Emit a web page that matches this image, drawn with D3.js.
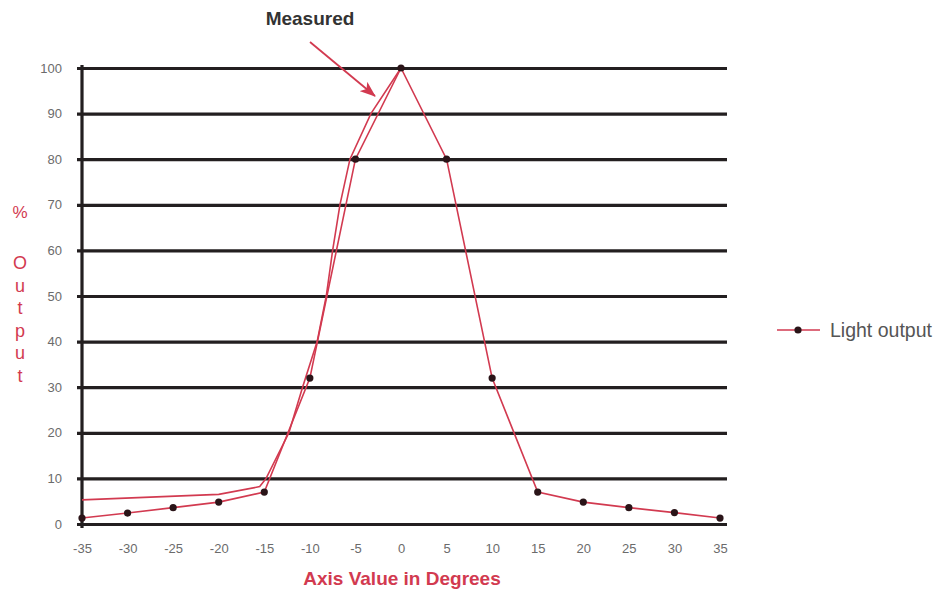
<!DOCTYPE html>
<html>
<head>
<meta charset="utf-8">
<script src="https://cdn.jsdelivr.net/npm/d3@7"></script>
<style>
  body { margin: 0; background: #fff; }
  svg { display: block; font-family: "Liberation Sans", Arial, Helvetica, sans-serif; }
</style>
</head>
<body>
<div id="chart"></div>
<script>
// x ticks and y ticks
const degrees = [-35, -30, -25, -20, -15, -10, -5, 0, 5, 10, 15, 20, 25, 30, 35];
const yTicks = [0, 10, 20, 30, 40, 50, 60, 70, 80, 90, 100];

// Light output series (with markers)
const lightOutput = [1.3, 2.4, 3.6, 4.8, 7, 32, 80, 100, 80, 32, 7, 4.8, 3.6, 2.5, 1.3];

// Measured curve (no markers), left half only
const measuredX = [-35, -20, -15.5, -14.8, -12.3, -10.8, -9.2, -8.2, -7.5, -6.7, -5.6, -3.3, 0];
const measuredY = [5.3, 6.5, 8.2, 10, 20, 30, 40, 50, 60, 70, 80, 90, 100];

const yLetters = ["O", "u", "t", "p", "u", "t"];

const width = 939, height = 592;
const red = "#d23a50";
const ink = "#231f20";

let svg = d3.select("#chart")
  .append("svg")
  .attr("width", width)
  .attr("height", height);

let x = d3.scaleLinear().domain([-35, 35]).range([82, 720]);
let y = d3.scaleLinear().domain([0, 100]).range([524, 68]);

// gridlines + y labels
let yAxis = svg.append("g")
  .attr("transform", "translate(77,0)")
  .call(d3.axisLeft(y).tickValues(yTicks).tickSize(-650).tickPadding(15));
yAxis.select(".domain").remove();
yAxis.selectAll(".tick line").attr("stroke", ink).attr("stroke-width", 3.2);
yAxis.selectAll(".tick text").attr("fill", "#6b6b6b").style("font-size", "13px");

// vertical axis line
svg.append("line")
  .attr("x1", x(-35)).attr("x2", x(-35))
  .attr("y1", y(100) - 3).attr("y2", y(0) + 4)
  .attr("stroke", ink).attr("stroke-width", 3.2);

// x labels (plain hyphen for negatives)
let xAxis = svg.append("g")
  .attr("transform", "translate(0," + y(0) + ")")
  .call(d3.axisBottom(x).tickValues(degrees).tickFormat(d => String(d)).tickSize(0).tickPadding(20));
xAxis.select(".domain").remove();
xAxis.selectAll(".tick text").attr("fill", "#6b6b6b").style("font-size", "13px");

// measured line
let measured = measuredX.map((d, i) => [d, measuredY[i]]);
let line = d3.line().x(d => x(d[0])).y(d => y(d[1]));
svg.append("path")
  .datum(measured)
  .attr("fill", "none")
  .attr("stroke", red)
  .attr("stroke-width", 1.6)
  .attr("d", line);

// light output line
let light = degrees.map((d, i) => [d, lightOutput[i]]);
svg.append("path")
  .datum(light)
  .attr("fill", "none")
  .attr("stroke", red)
  .attr("stroke-width", 1.6)
  .attr("d", line);

svg.selectAll("myDots")
  .data(light)
  .enter()
  .append("circle")
    .attr("cx", d => x(d[0]))
    .attr("cy", d => y(d[1]))
    .attr("r", 3.6)
    .attr("fill", "#2a1418");

// annotation
svg.append("defs").append("marker")
  .attr("id", "arrow")
  .attr("viewBox", "0 0 16 12")
  .attr("refX", 15).attr("refY", 6)
  .attr("markerWidth", 16).attr("markerHeight", 12)
  .attr("markerUnits", "userSpaceOnUse")
  .attr("orient", "auto")
  .append("path")
    .attr("d", "M0,0 L16,6 L0,12 L4,6 Z")
    .attr("fill", red);

svg.append("text")
  .attr("x", 310).attr("y", 25)
  .attr("text-anchor", "middle")
  .attr("fill", "#333")
  .style("font-size", "19px")
  .style("font-weight", "bold")
  .text("Measured");

svg.append("line")
  .attr("x1", 310).attr("y1", 42)
  .attr("x2", 375).attr("y2", 96)
  .attr("stroke", red)
  .attr("stroke-width", 1.8)
  .attr("marker-end", "url(#arrow)");

// y title
svg.append("text")
  .attr("x", 20).attr("y", 218)
  .attr("text-anchor", "middle")
  .attr("fill", red)
  .style("font-size", "17px")
  .text("%");

svg.selectAll("yLetters")
  .data(yLetters)
  .enter()
  .append("text")
    .attr("x", 20)
    .attr("y", (d, i) => 269 + i * 22.5)
    .attr("text-anchor", "middle")
    .attr("fill", red)
    .style("font-size", "18px")
    .text(d => d);

// x title
svg.append("text")
  .attr("x", 402).attr("y", 585)
  .attr("text-anchor", "middle")
  .attr("fill", red)
  .style("font-size", "19px")
  .style("font-weight", "bold")
  .text("Axis Value in Degrees");

// legend
let legend = svg.append("g");
legend.append("line")
  .attr("x1", 777).attr("x2", 820)
  .attr("y1", 330).attr("y2", 330)
  .attr("stroke", red).attr("stroke-width", 1.6);
legend.append("circle")
  .attr("cx", 798).attr("cy", 330).attr("r", 3.6)
  .attr("fill", "#2a1418");
legend.append("text")
  .attr("x", 830).attr("y", 337)
  .attr("fill", "#555")
  .style("font-size", "19.5px")
  .text("Light output");
</script>
</body>
</html>
